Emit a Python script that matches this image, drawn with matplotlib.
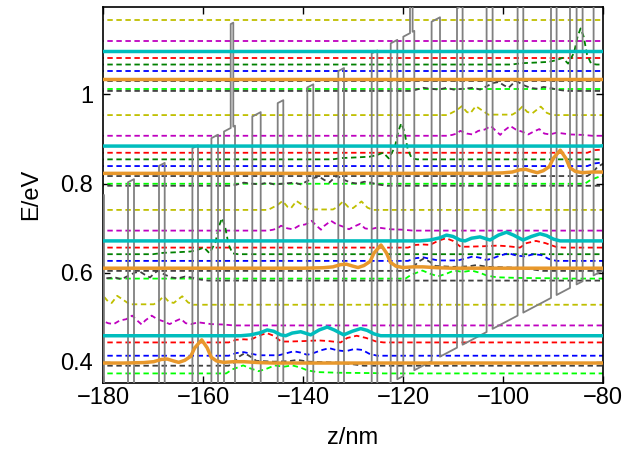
import numpy as np
import matplotlib
matplotlib.use('Agg')
import matplotlib.pyplot as plt

plt.rcParams['font.family'] = ['Liberation Sans', 'DejaVu Sans']

# axes
z_range = (-180, -80)
E_range = (0.354, 1.196)
x_ticks = [-180, -160, -140, -120, -100, -80]
y_ticks = [0.4, 0.6, 0.8, 1.0]
y_tick_labels = ['0.4', '0.6', '0.8', '1']

# conduction band profile, one period of the structure
layer_nm = [1.34, 0.52, 0.34, 3.46, 1.68, 3.40, 1.12, 4.80,
            1.20, 5.00, 1.14, 5.54, 1.12, 2.68, 1.32, 1.20]
layer_offset_eV = [0.761, 0.994, 0.761, 0.0, 0.761, 0.0, 0.761, 0.0,
                   0.761, 0.0, 0.761, 0.0, 0.761, 0.0, 0.761, 0.0]
period_start_nm = -155.8
well_ref_z = -117.6      # well bottom at this z ...
well_ref_E = 0.3823      # ... has this energy
field_eV_nm = 0.00593

# subband energies (eV) of the reference period
state_names = ['yellow', 'magenta', 'cyan', 'red', 'dkgreen',
               'blue', 'orange', 'gray', 'green', 'dkgray']
state_E = [0.7410, 0.6946, 0.6715, 0.6565, 0.6417,
           0.6267, 0.6103, 0.6043, 0.5870, 0.5825]
# which periods (relative to the reference one) each state shows up in
state_periods = [[-1, 0, 1, 2]] * 4 + [[0, 1, 2]] + [[-1, 0, 1, 2]] * 4 + [[0, 1, 2]]

# |psi|^2 bumps on top of each level (z in nm, offset in meV), reference period
wave_z = {
    'yellow': [-147, -146.3, -145.1, -144.1, -143.1, -142.4, -141.3, -140.1, -138.8,
               -134, -133.1, -132, -131, -130, -128.3, -127.1, -126],
    'magenta': [-147, -146, -145.1, -144.4, -143.1, -142, -140.8, -139.5, -138.3,
                -137.1, -136.4, -135.7, -134.4, -133.3, -132, -130.8, -129.8,
                -128.6, -127.6, -126.5, -125.1, -123.8, -122.5, -120, -118],
    'cyan': [-119, -116.6, -114.6, -112.6, -111.3, -110, -108.6, -107.6, -106.3,
             -104.6, -102.6, -100.9, -99.3, -97.9, -96, -94.3, -92.6, -91.3,
             -89.9, -88.6],
    'red': [-119, -117.5, -116, -114.6, -113, -111.4, -110, -108.5, -107, -104,
            -101, -99, -96.6, -95.3, -93.4, -91.5, -89.5, -88],
    'dkgreen': [-170, -168, -165, -162.5, -161, -159.8, -158.7, -157.5, -156.8,
                -156.2, -155.6, -154.9, -154.1, -153],
    'blue': [-119, -117.5, -116, -114.5, -113, -109, -107.3, -106, -104.6, -103.3,
             -102, -100.6, -98.9, -97.3, -95.6, -93.9, -92.3, -90.9, -89.3],
    'orange': [-140, -136, -134, -132.5, -131.3, -130, -129, -127.8, -126.6, -125.8,
               -124.4, -123.3, -122.5, -121.4, -120, -118, -116, -113, -110],
    'gray': [-119, -118, -117, -115.8, -114.6, -113.5, -110, -107, -105.3, -103,
             -100, -97, -94, -92],
    'green': [-119.5, -118.3, -117.3, -116.1, -114.6, -113, -111.3, -109.8, -108,
              -106.3, -104.6, -103.3, -101.3, -97, -90, -88],
    'dkgray': [-190, -189, -187.7, -186.3, -184.6, -183, -181.6, -179.6, -177.6,
               -176.3, -175, -173.6, -172.6, -171.6, -170.6, -169.6, -169, -167.6,
               -166.3, -165, -163.6, -162.3, -161, -159],
}
wave_meV = {
    'yellow': [0, 4, 11, 20, 7, 4, 20, 11, 1, 1, 7, 19, 7, 4, 19, 5, 0],
    'magenta': [0, 2, 5, 11, 5, 3, 11, 14, 22, 9, 2, 11, 22, 14, 9, 3, 9, 15, 5,
                3, 7, 5, 3, 2, 0],
    'cyan': [0, 0, 2, 7, 13, 10, 2, 0, 6, 9, 2, 13, 19.5, 13, 2, 10, 16, 12, 4, 0],
    'red': [0, 6, 7, 6, 15, 21, 15, 2, 2, 3, 4.5, 3, 0, 10, 15, 10, 2, 0],
    'dkgreen': [0, 3, 4.5, 6, 10, 15, 2, 27, 63, 81, 63, 22, 2, 0],
    'blue': [0, 6, 8, 4.5, 1, 1, 6, 10, 7, 2, 6, 12, 17, 12, 10, 15, 13, 4.5, 0],
    'orange': [0, 1, 3, 8, 9, 4.5, 1.5, 6, 15, 34, 52, 34, 13, 4.5, 1.5, 3, 3, 1, 0],
    'gray': [0, 7, 20, 28, 20, 11, 9, 10, 13, 9, 8, 7, 3, 0],
    'green': [0, 9, 13, 18, 11, 5, 11, 18, 15, 18, 13, 7, 3, 1.5, 0.7, 0],
    'dkgray': [0, 3, 7, 5, 3, 7, 3, 5, 7, 3, 10.5, 18, 20, 13, 7, 18, 22, 13, 7,
               5, 9, 7, 3, 0],
}

# styles
colors = {'yellow': '#bfbf00', 'magenta': '#bf00bf', 'cyan': '#00bdbd',
          'red': '#ff0000', 'dkgreen': '#008000', 'blue': '#0000ff',
          'orange': '#e8982c', 'gray': '#404040', 'green': '#00ff00',
          'dkgray': '#404040'}
thick = {'cyan', 'orange'}

fig = plt.figure(figsize=(6.22, 4.62), dpi=100)
ax = fig.add_axes([103 / 622, 1 - 382.5 / 462, 500 / 622, 375.5 / 462])

# band profile
period = sum(layer_nm)
pz, pE = [], []
for k in range(-3, 3):
    z = period_start_nm + k * period
    for t, v in zip(layer_nm, layer_offset_eV):
        for zz in (z, z + t):
            pz.append(zz)
            pE.append(well_ref_E + field_eV_nm * (zz - well_ref_z) + v)
        z += t
ax.plot(pz, pE, color='#808080', lw=1.3, zorder=3)

# subbands, repeated for each period
shift_E = field_eV_nm * period
for name, E0, periods in zip(state_names, state_E, state_periods):
    for k in periods:
        base = E0 + k * shift_E
        z = np.concatenate([[-300], np.array(wave_z[name]) + k * period, [0]])
        e = np.concatenate([[base], base + np.array(wave_meV[name]) / 1000, [base]])
        if name in thick:
            ax.plot(z, e, color=colors[name], lw=2.5, zorder=4,
                    solid_joinstyle='round')
        else:
            ax.plot(z, e, color=colors[name], lw=1.3, ls=(0, (3, 2)), zorder=2)

ax.set_xlim(z_range)
ax.set_ylim(E_range)
ax.set_xticks(x_ticks)
ax.set_xticklabels(['\u2212%d' % abs(v) for v in x_ticks])
ax.set_yticks(y_ticks)
ax.set_yticklabels(y_tick_labels)
ax.tick_params(direction='in', length=5, width=1, top=True, right=True,
               labelsize=17)
ax.tick_params(axis='x', pad=3)
ax.tick_params(axis='y', pad=7)
for s in ax.spines.values():
    s.set_linewidth(1.2)
ax.set_xlabel('z/nm', fontsize=17, labelpad=13)
ax.set_ylabel('E/eV', fontsize=17, labelpad=13)

fig.savefig('out.png', dpi=100)
